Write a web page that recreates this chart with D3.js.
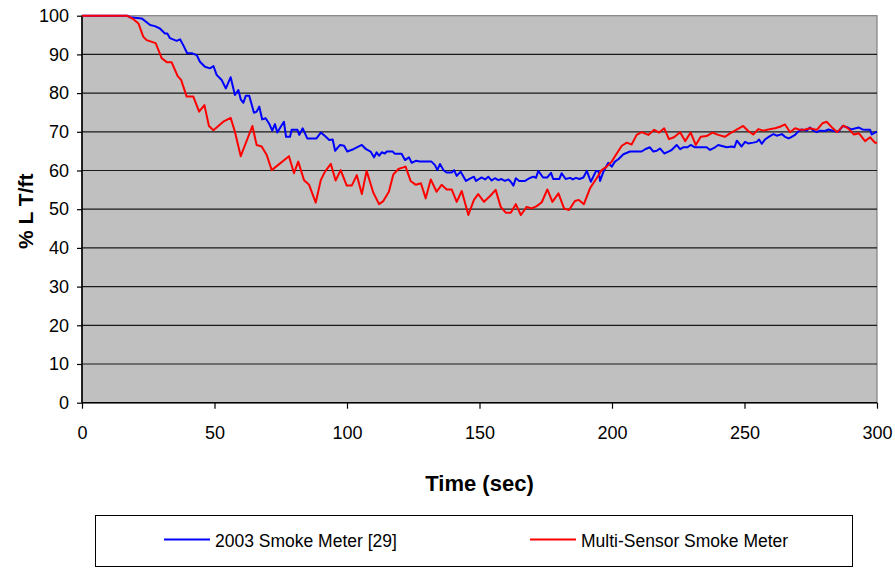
<!DOCTYPE html>
<html>
<head>
<meta charset="utf-8">
<script src="https://cdn.jsdelivr.net/npm/d3@7"></script>
<style>
  html, body { margin: 0; padding: 0; background: #fff; }
  svg { display: block; font-family: "Liberation Sans", Arial, sans-serif; }
</style>
</head>
<body>
<svg id="chart" width="895" height="569"></svg>
<script>
// Light transmission over time for two smoke meters
const seriesNames = ["2003 Smoke Meter [29]", "Multi-Sensor Smoke Meter"];
const seriesColors = ["#0000FF", "#FF0000"];

const meter2003Time = [0, 17, 18.1, 22.5, 24.4, 25.7, 27.5, 29.4, 31.3, 32.2, 33.2, 35.7, 37, 38.2, 39.7, 41.4, 43.3, 44.5, 46.4, 48.3,
  49.6, 50.8, 52.7, 54.3, 56.1, 57.7, 59, 59.9, 60.9, 61.8, 63.1, 64.9, 65.9, 66.9, 68, 69.3, 70.7, 71.8, 72.8, 73.7,
  75, 76.2, 77, 78.5, 79.1, 81.3, 82, 83.3, 85, 88.5, 90.1, 91.7, 93.3, 94.6, 95.5, 97.4, 98.9, 100.1, 102.4, 105.6,
  107.2, 108.9, 110.2, 111.2, 112.1, 113.1, 114.3, 115, 117.2, 118.1, 120.6, 121.9, 123.4, 124.4, 126, 127.5, 131.9, 133.2, 134.1, 135.1,
  136.4, 137.6, 139.5, 140.4, 141.4, 142.9, 144.9, 146.4, 147.9, 148.7, 150.8, 152.1, 153.3, 154.6, 155.8, 157.1, 158.3, 159.6, 160.9, 161.8,
  162.8, 163.7, 165, 167.2, 168.8, 170.3, 171.3, 172.2, 174, 175.6, 177, 177.8, 180.1, 181, 182.5, 184.2, 185.2, 186.4, 187.7, 189.2,
  190.5, 192, 194, 194.9, 195.5, 196.7, 198.6, 199.9, 201.1, 202.4, 204.3, 206.8, 211.2, 212.5, 214.3, 215.6, 216.9, 218.1, 219.7, 221.3,
  222.5, 224.4, 225.7, 226.9, 228.5, 229.7, 231.3, 235.7, 237, 238.9, 240.1, 243.3, 245.2, 246.2, 247.1, 248.9, 250.2, 251.4, 253.3, 254.6,
  255.5, 256.5, 257.7, 259.6, 260.9, 262.2, 264.1, 265.3, 266.6, 267.6, 269.1, 270.1, 271.6, 273.5, 274.7, 276, 277.3, 278.5, 280.4, 281.7,
  283.6, 285.5, 287, 288.7, 290.2, 292, 293.2, 294.5, 295.8, 297.4, 298, 299.2, 300];
const meter2003Value = [100, 100, 99.6, 99.3, 98.3, 97.6, 97.3, 96.7, 95.4, 95.4, 94.2, 93.5, 93.9, 92.4, 90.3, 90.3, 89.8, 88.1, 86.8, 86.4,
  87, 84.7, 83.4, 81.2, 84.1, 79.5, 80.8, 78.4, 77.5, 79.3, 79.3, 74.9, 75.2, 76.5, 73.2, 73.5, 72, 70.3, 72, 69.8,
  71.3, 72.6, 68.7, 68.7, 70.5, 70.5, 69.2, 70.9, 68.3, 68.3, 69.8, 68.9, 67.9, 68, 65.1, 66.6, 66.4, 64.9, 65.5, 66.6,
  65.5, 64.9, 63.4, 64.7, 63.8, 64.7, 64.4, 64.9, 64.9, 64.3, 64.3, 62.7, 63.4, 62, 62.5, 62.3, 62.3, 61.4, 60.1, 61.7,
  60.1, 59.5, 59.5, 60.1, 58.6, 59.7, 57.3, 57.9, 58.4, 57.3, 58.2, 57.7, 58.4, 57.4, 58, 57.5, 57.8, 57.3, 57.7, 57.1,
  56.1, 58, 57.3, 57.3, 58, 58.4, 58.1, 59.9, 58.2, 58.2, 59.4, 57.8, 57.8, 59.3, 57.8, 58.1, 57.7, 58.1, 57.8, 58.2,
  59.9, 57.1, 59.9, 59.9, 57.3, 59.6, 62, 61, 62.3, 62.9, 64.2, 64.9, 64.9, 65.5, 66, 64.9, 65.1, 65.7, 64.4, 64.9,
  65.3, 66.6, 65.5, 66, 66, 66.6, 66, 66, 65.3, 66, 66.6, 66, 66.2, 66, 67.7, 66.2, 67.4, 67, 67.2, 67.4,
  68, 66.9, 68, 68.9, 69.4, 69, 69.4, 68.7, 68.3, 68.6, 69.2, 70, 70.6, 70.3, 71.1, 70.3, 69.9, 70.3, 70.2, 70.6,
  70.2, 70, 71.5, 71.2, 70.6, 70.9, 71.1, 70.6, 70.5, 70.5, 69.3, 69.8, 70];

const multiSensorTime = [0, 16.9, 19.4, 21.3, 23.1, 24.4, 27.8, 30.1, 32, 33.8, 36.1, 37.4, 39.5, 42, 44.2, 46.2, 47.9, 49.6, 53.3, 56.1,
  57.7, 59.9, 64.3, 65.9, 67.8, 69.7, 71.6, 78.1, 80, 81.6, 83.8, 85.7, 88.2, 90.1, 91.7, 93.9, 95.7, 97.6, 99.9, 101.8,
  103.7, 105.6, 107.4, 109.9, 112.1, 113.7, 115.8, 117.5, 119.4, 122.1, 124, 126, 127.9, 129.7, 131.6, 133.8, 135.7, 137.6, 139.5, 141.4,
  143.3, 145.8, 147.9, 149.5, 151.7, 154, 156.1, 158, 159.9, 161.8, 163.7, 165.6, 167.8, 169.7, 171.6, 173.5, 175.6, 177.5, 179.8, 181.9,
  183.8, 186, 187.5, 189.4, 191.7, 194.2, 196.1, 198, 199.9, 201.8, 203.7, 205.6, 207.4, 209.3, 211.2, 213.7, 215.9, 217.8, 219.7, 221.5,
  223.4, 225.7, 227.6, 229.7, 231.6, 233.5, 235.7, 237.9, 240.1, 242.6, 244.5, 246.4, 249.5, 251.4, 253.3, 255.2, 257.1, 259, 261.5, 263.4,
  265.3, 267.2, 269.1, 271, 272.9, 274.7, 277.3, 279.4, 281, 282.9, 285, 287.3, 289.1, 291.3, 293.2, 295.5, 297.4, 299.2, 300];
const multiSensorValue = [100, 100, 99.1, 98, 94.6, 93.7, 92.9, 89, 88, 88, 84.4, 83.4, 79.1, 79.1, 75.2, 76.9, 71.5, 70.4, 72.6, 73.6,
  70, 63.7, 71.5, 66.6, 66.2, 64, 60.1, 63.7, 59.3, 62.3, 57.5, 56.3, 51.7, 57.5, 59.7, 61.7, 57.4, 60.1, 56.1, 56.1,
  58.8, 53.9, 59.9, 54.3, 51.3, 52.1, 54.5, 59, 60.4, 61, 57.3, 56.3, 56.7, 52.8, 57.7, 54.5, 56.3, 55.1, 55.1, 51.9,
  54.7, 48.5, 52.4, 53.9, 51.9, 53.4, 55, 50.6, 49.1, 49.1, 51.3, 48.5, 50.6, 50.2, 50.8, 51.8, 55.1, 51.9, 54.1, 50.2,
  49.8, 52.1, 52.4, 51.3, 55.4, 58, 60.1, 61, 62.3, 64.4, 66.4, 67.2, 66.7, 69.2, 69.9, 69.2, 70.5, 69.8, 70.9, 68.1,
  68.6, 69.9, 67.6, 69.8, 66.6, 68.7, 68.9, 69.8, 69.2, 68.7, 69.6, 70.3, 71.5, 70.2, 69.3, 70.7, 70.3, 70.6, 70.9, 71.3,
  71.9, 69.9, 70.9, 70.5, 70.6, 70.9, 70.5, 72.2, 72.6, 71.2, 69.9, 71.6, 70.9, 69.3, 69.6, 67.6, 68.6, 67.2, 67.2];

const xTicks = [0, 50, 100, 150, 200, 250, 300];
const yTicks = [0, 10, 20, 30, 40, 50, 60, 70, 80, 90, 100];
const xTitle = "Time (sec)";
const yTitle = "% L T/ft";

const series = [
  { name: seriesNames[0], color: seriesColors[0], t: meter2003Time, v: meter2003Value },
  { name: seriesNames[1], color: seriesColors[1], t: multiSensorTime, v: multiSensorValue }
];

const svg = d3.select("#chart");
const plot = { left: 82, right: 877, top: 15.7, bottom: 402.7 };

const x = d3.scaleLinear().domain([0, 300]).range([plot.left, plot.right]);
const y = d3.scaleLinear().domain([0, 100]).range([plot.bottom, plot.top]);

// plot area
svg.append("rect")
  .attr("x", plot.left).attr("y", plot.top)
  .attr("width", plot.right - plot.left).attr("height", plot.bottom - plot.top)
  .attr("fill", "#C0C0C0").attr("stroke", "#808080").attr("stroke-width", 1.2);

// horizontal gridlines
svg.append("g").selectAll("line")
  .data(yTicks.filter(d => d > 0 && d < 100))
  .join("line")
  .attr("x1", plot.left).attr("x2", plot.right)
  .attr("y1", d => y(d)).attr("y2", d => y(d))
  .attr("stroke", "#1a1a1a").attr("stroke-width", 1.2);

// axes
const yAxis = svg.append("g")
  .attr("transform", `translate(${plot.left},0)`)
  .call(d3.axisLeft(y).tickValues(yTicks).tickSize(5).tickPadding(8));
const xAxis = svg.append("g")
  .attr("transform", `translate(0,${plot.bottom})`)
  .call(d3.axisBottom(x).tickValues(xTicks).tickSize(6).tickPadding(18));

[yAxis, xAxis].forEach(g => {
  g.select(".domain").attr("stroke", "#000").attr("stroke-width", 1.6);
  g.selectAll(".tick line").attr("stroke", "#000").attr("stroke-width", 1.2);
  g.selectAll(".tick text")
    .attr("fill", "#000")
    .style("font-family", '"Liberation Sans", Arial, sans-serif')
    .style("font-size", "18px");
});
yAxis.select(".domain").attr("d", `M0,${plot.top}V${plot.bottom}`);
xAxis.select(".domain").attr("d", `M${plot.left},0H${plot.right}`);

// series lines
const line = d3.line()
  .x(i => x(i.t))
  .y(i => y(i.v));

series.forEach(s => {
  const pts = s.t.map((t, i) => ({ t, v: s.v[i] }));
  svg.append("path")
    .datum(pts)
    .attr("d", line)
    .attr("fill", "none")
    .attr("stroke", s.color)
    .attr("stroke-width", 2)
    .attr("stroke-linejoin", "round");
});

// axis titles
svg.append("text")
  .attr("x", (plot.left + plot.right) / 2).attr("y", 491)
  .attr("text-anchor", "middle")
  .style("font-size", "22px").style("font-weight", "bold")
  .text(xTitle);

svg.append("text")
  .attr("transform", `translate(33,${(plot.top + plot.bottom) / 2 + 2}) rotate(-90)`)
  .attr("text-anchor", "middle")
  .style("font-size", "21px").style("font-weight", "bold")
  .text(yTitle);

// legend
const legend = svg.append("g");
legend.append("rect")
  .attr("x", 95.5).attr("y", 515.5).attr("width", 757).attr("height", 51)
  .attr("fill", "#fff").attr("stroke", "#000").attr("stroke-width", 1);

const legendX = [164, 530];
series.forEach((s, i) => {
  legend.append("line")
    .attr("x1", legendX[i]).attr("x2", legendX[i] + 46)
    .attr("y1", 539.5).attr("y2", 539.5)
    .attr("stroke", s.color).attr("stroke-width", 2);
  legend.append("text")
    .attr("x", legendX[i] + 51).attr("y", 546.5)
    .style("font-size", "17.5px")
    .text(s.name);
});
</script>
</body>
</html>
